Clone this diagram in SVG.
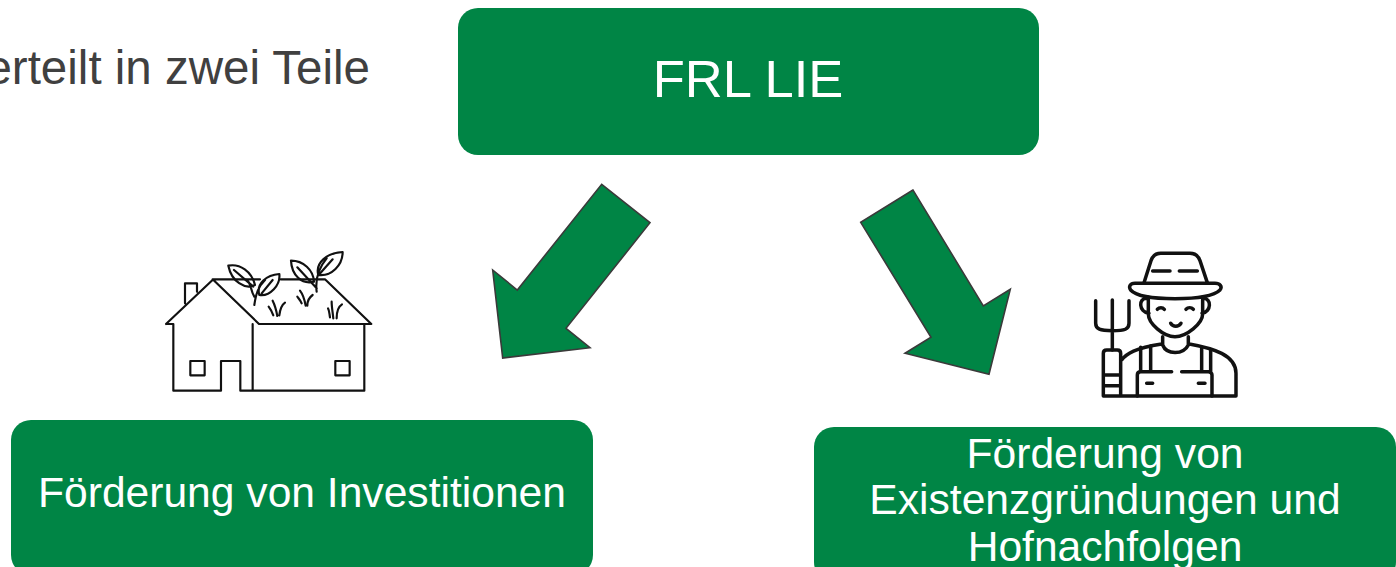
<svg xmlns="http://www.w3.org/2000/svg" width="1396" height="567" viewBox="0 0 1396 567">
<style>
.box{fill:#008545}
.wt{fill:#fff;font-family:"Liberation Sans",Arial,sans-serif;text-anchor:middle}
.t{font-size:42.6px}
.arrow{fill:#008545;stroke:#3a3a3a;stroke-width:1.6;stroke-linejoin:miter}
.ic{fill:none;stroke:#111;stroke-linecap:round;stroke-linejoin:round}
</style>
<rect width="1396" height="567" fill="#fff"/>
<text id="intro" x="370" y="84" text-anchor="end" font-family="'Liberation Sans',Arial,sans-serif" font-size="47.5" fill="#404040">verteilt in zwei Teile</text>
<g id="frl"><rect class="box" x="458" y="8" width="581" height="147" rx="20"/><text class="wt" x="748" y="97" font-size="52.5">FRL LIE</text></g>
<g id="inv"><rect class="box" x="11" y="420" width="582" height="155" rx="20"/><text class="wt t" x="302" y="507">Förderung von Investitionen</text></g>
<g id="exi"><rect class="box" x="814" y="427" width="582" height="155" rx="20"/>
<text class="wt t" x="1105" y="468">Förderung von</text><text class="wt t" x="1105" y="514">Existenzgründungen und</text><text class="wt t" x="1105" y="561">Hofnachfolgen</text></g>
<g id="connectors">
<polygon class="arrow" points="601.7,184.3 650,222.7 566,328.3 590,347.7 502.7,358 492.7,270 517.3,290"/>
<polygon class="arrow" points="913,190 860.7,222.3 931,337.3 905,353.3 989,374.3 1010.3,289.3 983.3,306"/>
</g>
<g id="house" class="ic" transform="translate(150,240) scale(.3333)" stroke-width="6.5">
<path d="M48 252H70V452H213V363H271V452H643V252H664L525 118H392M330 118H190L48 252M188 118L327 252H643M308 252V452M105 190V130H141V155"/>
<rect x="121" y="363" width="43" height="43"/><rect x="556" y="363" width="43" height="43"/>
<path d="M313 195C318 160 325 140 345 120M313 170C300 150 305 130 290 120M235 77C270 70 305 95 315 135C285 150 245 125 235 77ZM252 90L310 140M388 102C392 135 360 170 328 165C318 130 350 105 388 102ZM335 160L368 120"/>
<path d="M500 155C495 115 505 85 530 55M578 36C578 75 545 110 505 105C495 70 530 38 578 36ZM508 103L548 58M423 62C460 62 490 90 492 125C455 135 425 105 423 62ZM442 82L500 145"/>
<path d="M382 228C378 205 372 190 368 182M370 226C366 215 362 208 356 200M388 226C390 210 395 195 405 188M467 197C463 175 458 162 450 152M455 190C452 182 448 178 442 170M472 197C472 182 478 172 488 165M550 235C548 215 545 200 545 185M540 232C538 220 538 212 534 205M560 235C560 215 565 200 576 193"/>
</g>
<g id="farmer" class="ic" transform="translate(1080,240) scale(.3333)" stroke-width="10.5">
<path d="M192 128L213 62C218 48 228 40 242 40H330C345 40 355 48 360 62L382 128M218 93H270M298 93H352"/>
<path d="M165 130H405C420 130 428 140 420 150C400 170 350 176 285 176C220 176 170 170 152 150C145 140 150 130 165 130Z"/>
<path d="M205 172V222C205 250 250 290 285 290C320 290 368 250 368 222V172M200 175C175 175 175 215 207 220M370 175C395 175 395 215 366 220"/>
<path d="M232 208C238 202 248 202 253 208M318 208C324 202 334 202 340 208M272 250C280 262 295 262 303 250"/>
<path d="M248 290V315C260 345 310 345 325 315V290M125 360C140 340 165 325 245 312M328 312C400 325 468 345 468 400V468H70V340C70 332 75 330 80 330H112C118 330 122 334 122 340V468M72 405H120M72 437H120"/>
<path d="M182 322V395M212 318V395M365 322V395M392 330V395M172 468V405C172 398 175 395 182 395H275M305 395H385C392 395 396 400 396 405V468M200 430H218M355 430H375"/>
<path d="M97 330V180M47 182V250C47 268 60 272 97 272C135 272 147 268 147 250V182"/>
</g>
</svg>
